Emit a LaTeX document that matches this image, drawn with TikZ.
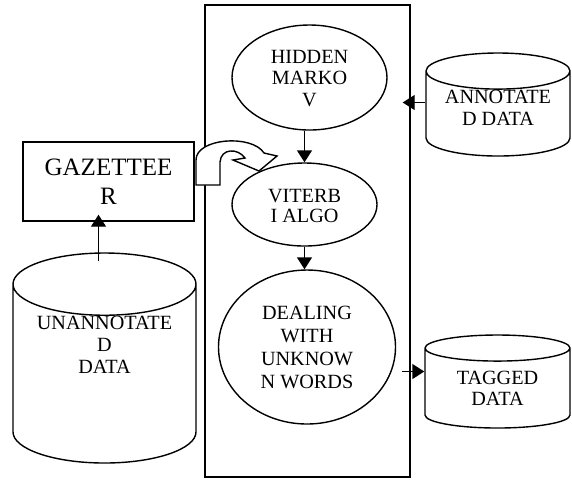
\documentclass[tikz,border=0pt]{standalone}
\usepackage{fontspec}
\setmainfont{Liberation Serif}
\usetikzlibrary{arrows.meta,positioning,shapes.geometric}
\newcommand{\liftlines}[2]{\raisebox{#1}[\height][\depth]{\begin{tabular}{@{}c@{}}#2\end{tabular}}}

\begin{document}
\begin{tikzpicture}[
    x=0.5pt, y=-0.5pt,
    stage/.style={ellipse, draw=black, line width=0.7pt, align=center, inner sep=0pt, font=\fontsize{10.1}{10.8}\selectfont},
    store/.style={cylinder, shape border rotate=90, anchor=shape center, draw=black, line width=0.7pt, align=center, inner sep=0pt, font=\fontsize{10.1}{10.8}\selectfont},
    flow/.style={-{Triangle[length=6pt,width=7.5pt]}, line width=0.7pt}
    ]
    \useasboundingbox (0,0) rectangle (572,479);
    \node[draw, line width=0.7pt, minimum width=102.5pt, minimum height=236pt] (frame) at (307.5,241) {};
    \node[stage, minimum width=77.5pt, minimum height=52.5pt] (hmm) at (309.5,77.5) {\liftlines{-1.5pt}{HIDDEN\\MARKO\\V}};
    \node[stage, minimum width=72.5pt, minimum height=41.5pt, font=\fontsize{10.1}{9.8}\selectfont] (viterbi) at (304.5,204.5) {\liftlines{-2pt}{VITERB\\I ALGO}};
    \node[stage, minimum width=88.5pt, minimum height=77pt, font=\fontsize{10.1}{11.5}\selectfont] (unknown) at (307,347) {DEALING\\WITH\\UNKNOW\\N WORDS};
    \node[draw, line width=0.7pt, align=center, minimum width=85.5pt, minimum height=39.5pt, font=\fontsize{12.5}{14.5}\selectfont] (gazetteer) at (108.5,181.5) {GAZETTEE\\R};
    \node[store, minimum width=72pt, minimum height=51.5pt, aspect=0.34] (annotated) at (498,104.5) {\liftlines{2pt}{ANNOTATE\\D DATA}};
    \node[store, minimum width=72.5pt, minimum height=46.5pt, aspect=0.32] (tagged) at (497.5,381.5) {TAGGED\\DATA};
    \node[store, minimum width=91.5pt, minimum height=105pt, aspect=0.46] (unannotated) at (104.5,358) {\liftlines{8pt}{UNANNOTATE\\D\\DATA\\\mbox{}}};
    % flow inside the frame
    \draw[flow] (viterbi.north |- hmm.south) -- (viterbi.north);
    \draw[flow] (viterbi.south) -- (viterbi.south |- unknown.north);
    % data going in and out
    \coordinate (taggedmid) at (tagged.west |- tagged.shape center);
    \coordinate (taggedin) at ([yshift=5pt]taggedmid);
    \coordinate (unknownout) at ([xshift=3pt]unknown.east);
    \draw[flow] (unknownout |- taggedin) -- (taggedin);
    \coordinate (annotatedout) at (annotated.west |- annotated.shape center);
    \draw[flow, shorten >=-4pt] ([yshift=1pt]annotatedout) -- ([yshift=1pt]annotatedout -| frame.east);
    \draw[flow, shorten <=-4.5pt, shorten >=-3.5pt] ([xshift=-3pt]unannotated.top) -- ([xshift=-3pt]unannotated.top |- gazetteer.south);
    % u-turn arrow from the gazetteer
    \draw[line width=0.7pt, fill=white] (196,185) -- (196,160) .. controls (196,138) and (252,134) .. (264,153)
      -- (277,156) -- (259,171) -- (233,160) -- (245,158) .. controls (238,148) and (221,148) .. (220,162) -- (220,185) -- cycle;
\end{tikzpicture}
\end{document}
